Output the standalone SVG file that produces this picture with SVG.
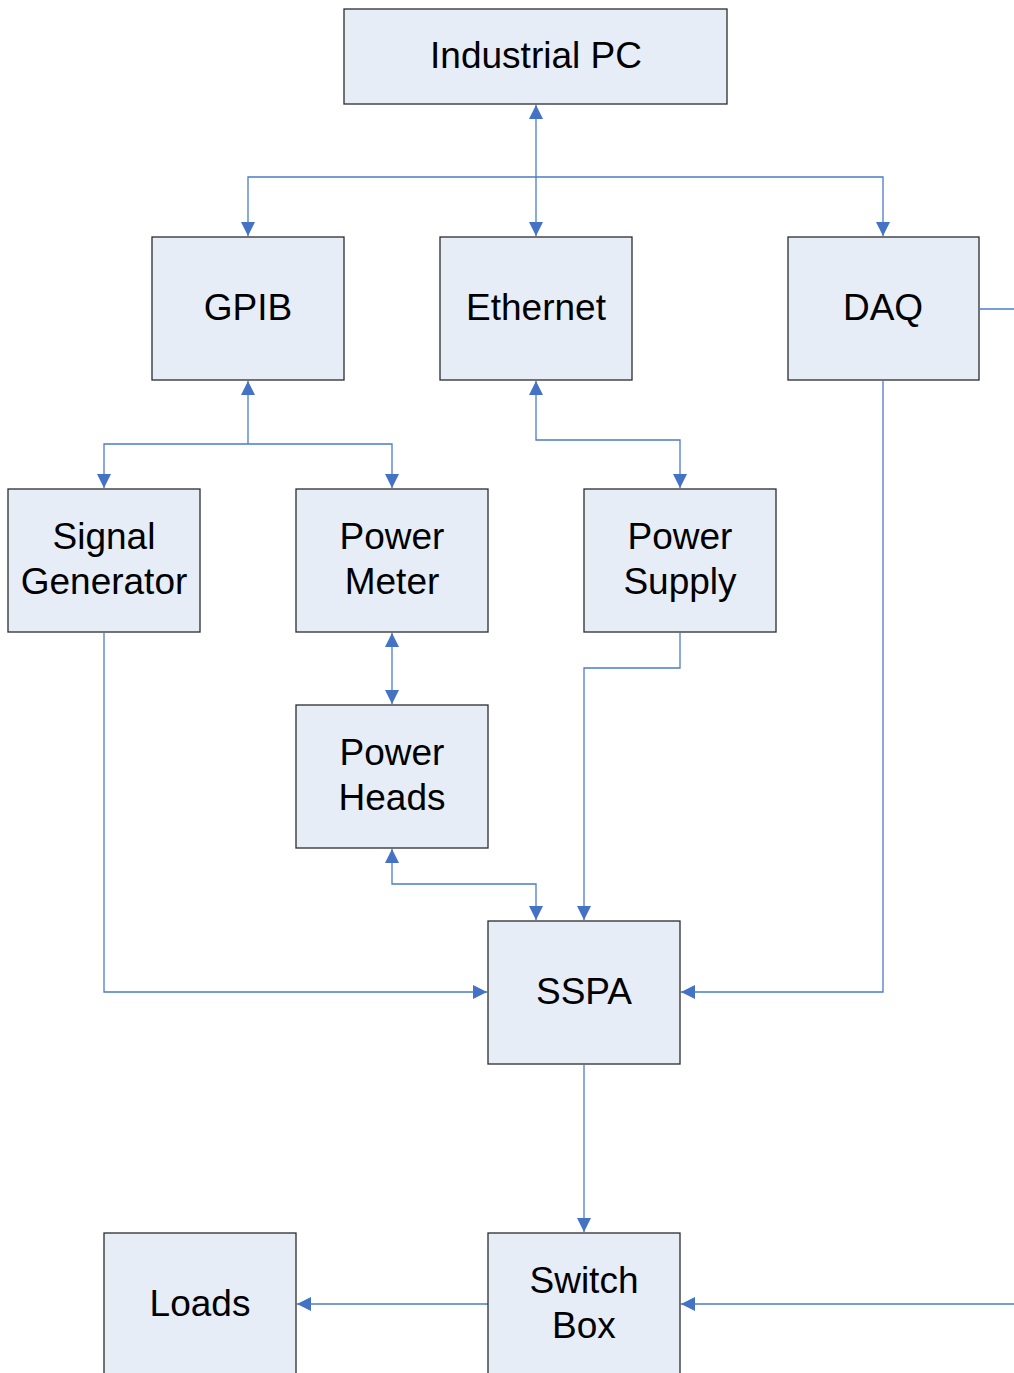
<svg xmlns="http://www.w3.org/2000/svg" width="1014" height="1373" viewBox="0 0 1014 1373">
  <style>
    .box { fill: #E7EDF7; stroke: #2B2B2B; stroke-width: 1.3; }
    .lbl { font-family: "Liberation Sans", Arial, sans-serif; font-size: 37px; fill: #000; text-anchor: middle; }
    .wire { fill: none; stroke: #4A7CC7; stroke-width: 1.3; }
  </style>
  <defs>
    <marker id="head" viewBox="0 0 14 14" refX="14" refY="7" markerWidth="14" markerHeight="14" markerUnits="userSpaceOnUse" orient="auto-start-reverse">
      <path d="M0,0 L14,7 L0,14 Z" fill="#4472C4"/>
    </marker>
  </defs>
  <rect width="1014" height="1373" fill="#FFFFFF"/>

  <g id="connectors">
    <!-- PC bus to GPIB / Ethernet / DAQ -->
    <line class="wire" x1="536" y1="105" x2="536" y2="236" marker-start="url(#head)" marker-end="url(#head)"/>
    <polyline class="wire" points="248,236 248,177 883,177 883,236" marker-start="url(#head)" marker-end="url(#head)"/>
    <!-- GPIB bus -->
    <line class="wire" x1="248" y1="444" x2="248" y2="381" marker-end="url(#head)"/>
    <polyline class="wire" points="104,488 104,444 392,444 392,488" marker-start="url(#head)" marker-end="url(#head)"/>
    <!-- Ethernet to Power Supply -->
    <polyline class="wire" points="536,381 536,440 680,440 680,488" marker-start="url(#head)" marker-end="url(#head)"/>
    <!-- DAQ outgoing stub -->
    <line class="wire" x1="980" y1="309" x2="1014" y2="309"/>
    <!-- Power Meter to Power Heads -->
    <line class="wire" x1="392" y1="633" x2="392" y2="704" marker-start="url(#head)" marker-end="url(#head)"/>
    <!-- Power Heads to SSPA -->
    <polyline class="wire" points="392,849 392,884 536,884 536,920" marker-start="url(#head)" marker-end="url(#head)"/>
    <!-- Power Supply to SSPA -->
    <polyline class="wire" points="680,633 680,668 584,668 584,920" marker-end="url(#head)"/>
    <!-- Signal Generator to SSPA -->
    <polyline class="wire" points="104,633 104,992 487,992" marker-end="url(#head)"/>
    <!-- DAQ to SSPA -->
    <polyline class="wire" points="883,381 883,992 681,992" marker-end="url(#head)"/>
    <!-- SSPA to Switch Box -->
    <line class="wire" x1="584" y1="1065" x2="584" y2="1232" marker-end="url(#head)"/>
    <!-- Switch Box to Loads -->
    <line class="wire" x1="488" y1="1304" x2="297" y2="1304" marker-end="url(#head)"/>
    <!-- incoming control to Switch Box -->
    <line class="wire" x1="1014" y1="1304" x2="681" y2="1304" marker-end="url(#head)"/>
  </g>

  <g id="industrial-pc">
    <rect class="box" x="344" y="9" width="383" height="95"/>
    <text class="lbl" x="536" y="68">Industrial PC</text>
  </g>
  <g id="gpib">
    <rect class="box" x="152" y="237" width="192" height="143"/>
    <text class="lbl" x="248" y="320">GPIB</text>
  </g>
  <g id="ethernet">
    <rect class="box" x="440" y="237" width="192" height="143"/>
    <text class="lbl" x="536" y="320">Ethernet</text>
  </g>
  <g id="daq">
    <rect class="box" x="788" y="237" width="191" height="143"/>
    <text class="lbl" x="883" y="320">DAQ</text>
  </g>
  <g id="signal-generator">
    <rect class="box" x="8" y="489" width="192" height="143"/>
    <text class="lbl" x="104" y="549">Signal</text>
    <text class="lbl" x="104" y="594">Generator</text>
  </g>
  <g id="power-meter">
    <rect class="box" x="296" y="489" width="192" height="143"/>
    <text class="lbl" x="392" y="549">Power</text>
    <text class="lbl" x="392" y="594">Meter</text>
  </g>
  <g id="power-supply">
    <rect class="box" x="584" y="489" width="192" height="143"/>
    <text class="lbl" x="680" y="549">Power</text>
    <text class="lbl" x="680" y="594">Supply</text>
  </g>
  <g id="power-heads">
    <rect class="box" x="296" y="705" width="192" height="143"/>
    <text class="lbl" x="392" y="765">Power</text>
    <text class="lbl" x="392" y="810">Heads</text>
  </g>
  <g id="sspa">
    <rect class="box" x="488" y="921" width="192" height="143"/>
    <text class="lbl" x="584" y="1004">SSPA</text>
  </g>
  <g id="loads">
    <rect class="box" x="104" y="1233" width="192" height="150"/>
    <text class="lbl" x="200" y="1316">Loads</text>
  </g>
  <g id="switch-box">
    <rect class="box" x="488" y="1233" width="192" height="150"/>
    <text class="lbl" x="584" y="1293">Switch</text>
    <text class="lbl" x="584" y="1338">Box</text>
  </g>
</svg>
